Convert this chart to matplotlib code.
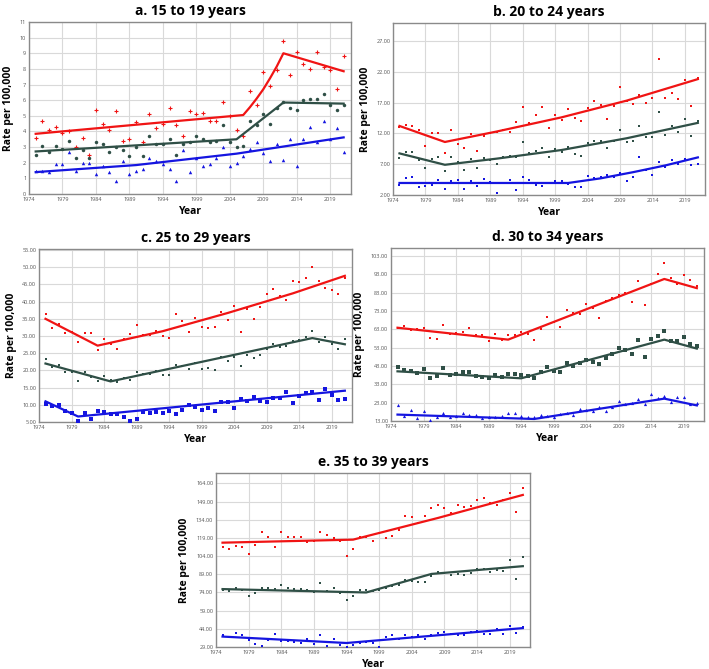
import matplotlib
matplotlib.use('Agg')
import matplotlib.pyplot as plt
import numpy as np
from matplotlib.ticker import FormatStrFormatter

plt.rcParams['font.family'] = ['Open Sans', 'DejaVu Sans']

years = list(range(1975, 2022))

## ---- a. 15 to 19 years ----
a_red = [3.6, 4.7, 4.1, 4.3, 3.9, 4.0, 3.0, 3.6, 2.5, 5.4, 4.5, 4.1, 5.3, 3.4, 3.5, 4.6,
         3.3, 5.1, 4.2, 4.5, 5.5, 4.4, 3.7, 5.3, 5.1, 5.2, 4.7, 4.7, 5.9, 5.0, 4.1, 3.7,
         6.6, 5.7, 7.8, 6.9, 7.9, 9.8, 7.6, 9.1, 8.3, 8.0, 9.1, 8.1, 7.9, 6.7, 8.8]
a_green = [2.5, 3.1, 2.7, 3.1, 2.9, 3.4, 2.3, 2.8, 2.3, 3.3, 3.2, 2.7, 3.0, 2.8, 2.4, 3.0,
           2.4, 3.7, 3.2, 3.2, 3.5, 2.5, 3.2, 3.3, 3.7, 3.5, 3.3, 3.4, 4.4, 3.3, 3.0, 3.1,
           4.7, 4.4, 5.1, 4.5, 5.5, 5.9, 5.5, 5.4, 6.0, 6.1, 6.1, 6.4, 5.7, 5.4, 5.7]
a_blue = [1.5, 1.5, 1.4, 1.9, 1.9, 2.7, 1.5, 2.0, 2.0, 1.3, 1.8, 1.4, 0.8, 2.1, 1.3, 1.5,
          1.6, 2.3, 2.1, 1.9, 1.6, 0.8, 2.8, 1.4, 2.3, 1.8, 1.9, 2.3, 3.0, 1.8, 2.0, 2.4,
          2.9, 3.3, 2.6, 2.1, 3.2, 2.2, 3.5, 1.8, 3.5, 4.3, 3.3, 4.7, 3.5, 4.2, 2.7]
a_red_fit_x = [1975, 2006, 2007, 2008, 2009, 2010, 2011, 2012, 2021]
a_red_fit = [3.85, 5.05, 5.55, 6.1, 6.7, 7.4, 8.15, 9.0, 7.85]
a_green_fit_x = [1975, 2005, 2012, 2021]
a_green_fit = [2.72, 3.5, 5.85, 5.78]
a_blue_fit_x = [1975, 1990, 2005, 2021]
a_blue_fit = [1.4, 1.85, 2.58, 3.62]

## ---- b. 20 to 24 years ----
b_red = [13.1, 13.3, 13.2, 12.5, 9.9, 12.1, 12.0, 8.8, 12.5, 10.3, 9.6, 11.9, 9.1, 11.6, 12.0, 12.3,
         12.5, 12.2, 13.9, 16.2, 13.6, 14.9, 16.3, 12.9, 14.9, 14.2, 15.9, 14.5, 14.0, 16.1, 17.2, 16.6,
         14.3, 16.4, 19.5, 17.2, 16.7, 18.3, 17.0, 17.8, 24.1, 17.7, 18.6, 17.6, 20.6, 16.5, 20.9]
b_green = [8.0, 9.0, 9.0, 7.7, 6.4, 7.8, 8.1, 5.9, 8.1, 7.4, 6.1, 7.9, 6.3, 8.0, 7.7, 7.1,
           8.1, 8.3, 8.2, 10.6, 8.8, 9.2, 9.7, 8.2, 9.5, 9.0, 9.8, 8.6, 8.4, 10.5, 10.8, 10.7,
           9.7, 10.7, 12.5, 10.6, 10.7, 13.2, 11.4, 11.4, 15.5, 11.8, 13.2, 12.2, 14.3, 11.5, 14.0]
b_blue = [3.6, 4.8, 4.9, 3.3, 3.4, 3.7, 4.4, 3.0, 4.2, 4.5, 2.9, 4.2, 3.4, 4.6, 4.1, 2.4,
          4.0, 4.5, 2.8, 5.0, 4.5, 3.7, 3.4, 3.9, 4.3, 4.3, 3.8, 3.3, 3.3, 5.1, 4.7, 4.9,
          5.3, 5.0, 5.5, 4.2, 5.0, 8.2, 6.0, 5.3, 7.3, 6.6, 7.7, 7.1, 7.9, 6.9, 7.0]
b_red_fit_x = [1975, 1982, 1990, 2000, 2010, 2021]
b_red_fit = [13.2, 10.6, 12.3, 14.6, 17.3, 20.8]
b_green_fit_x = [1975, 1982, 1990, 2000, 2010, 2021]
b_green_fit = [8.75, 6.9, 7.9, 9.3, 11.2, 13.7]
b_blue_fit_x = [1975, 2001, 2006, 2011, 2016, 2021]
b_blue_fit = [3.95, 3.95, 4.7, 5.7, 6.8, 8.1]

## ---- c. 25 to 29 years ----
c_red = [36.5, 32.3, 33.5, 31.0, 31.3, 28.3, 31.0, 30.9, 25.8, 29.2, 27.8, 26.2, 29.1, 30.5, 33.2, 30.4,
         30.2, 31.6, 30.1, 29.4, 36.4, 34.5, 31.3, 35.1, 32.5, 32.3, 32.7, 36.9, 34.8, 38.7, 31.3, 38.0,
         34.9, 38.3, 42.2, 43.8, 41.7, 40.6, 45.9, 45.6, 46.8, 50.2, 45.9, 44.0, 43.3, 42.2, 47.0]
c_green = [23.2, 21.0, 21.6, 19.6, 19.4, 16.9, 19.4, 18.0, 17.0, 18.4, 17.3, 16.6, 17.7, 17.3, 19.5, 18.9,
           18.9, 19.7, 18.6, 18.7, 21.7, 21.2, 20.5, 22.1, 20.4, 20.6, 20.2, 23.8, 22.6, 23.9, 21.4, 24.5,
           23.5, 24.5, 26.2, 27.6, 26.9, 27.0, 28.5, 28.8, 29.7, 31.5, 28.2, 29.7, 27.7, 26.3, 29.0]
c_blue = [10.1, 9.7, 9.8, 8.3, 7.5, 5.4, 7.7, 6.0, 8.3, 7.8, 7.2, 7.3, 6.4, 5.2, 6.0, 7.8,
          7.6, 7.9, 7.5, 8.3, 7.2, 8.4, 10.0, 9.3, 8.6, 9.1, 8.1, 10.9, 10.8, 9.0, 11.7, 11.0,
          12.3, 11.0, 10.8, 11.9, 12.0, 13.8, 10.6, 12.6, 13.3, 13.6, 11.4, 14.5, 12.9, 11.3, 11.8]
c_red_fit_x = [1975, 1983, 1993, 2003, 2013, 2021]
c_red_fit = [35.0, 27.2, 31.4, 36.7, 42.4, 47.5]
c_green_fit_x = [1975, 1985, 2016, 2021]
c_green_fit = [22.0, 16.8, 29.4, 27.6]
c_blue_fit_x = [1975, 1980, 2021]
c_blue_fit = [11.0, 6.6, 14.1]

## ---- d. 30 to 34 years ----
d_red = [64.0, 65.0, 62.8, 63.3, 64.0, 58.5, 58.0, 65.6, 60.5, 60.8, 61.5, 63.5, 59.8, 60.2, 56.6, 60.5,
         57.3, 59.9, 60.0, 61.5, 60.5, 57.2, 63.0, 70.0, 67.0, 64.3, 73.4, 72.0, 71.5, 76.8, 74.6, 69.0,
         78.6, 80.0, 82.0, 82.7, 78.2, 89.5, 76.5, 87.5, 93.4, 99.0, 91.0, 88.0, 92.6, 90.0, 86.5]
d_green = [42.3, 40.6, 40.5, 39.3, 41.3, 36.7, 37.3, 41.8, 38.0, 38.5, 39.5, 39.8, 37.8, 37.2, 36.2, 37.9,
           37.0, 38.6, 38.7, 38.2, 37.4, 36.2, 39.5, 42.5, 40.5, 39.8, 44.5, 43.0, 44.8, 46.2, 45.3, 44.3,
           47.3, 49.5, 52.6, 52.0, 49.5, 57.0, 47.8, 57.5, 59.2, 62.0, 56.5, 56.8, 59.0, 55.0, 54.0]
d_blue = [21.6, 15.8, 18.9, 14.7, 18.5, 13.3, 15.2, 17.5, 15.3, 15.6, 17.1, 16.2, 16.5, 14.5, 15.4, 15.2,
          15.8, 17.5, 17.4, 15.6, 15.0, 15.0, 16.4, 16.0, 15.1, 17.0, 17.6, 16.1, 19.8, 19.2, 18.7, 20.6,
          18.2, 20.4, 24.0, 22.4, 23.0, 24.8, 22.1, 27.8, 25.3, 26.5, 23.5, 26.0, 26.3, 22.4, 23.0]
d_red_fit_x = [1975, 1992, 2016, 2021]
d_red_fit = [63.9, 57.4, 90.5, 85.5]
d_green_fit_x = [1975, 1994, 2016, 2021]
d_green_fit = [40.1, 36.3, 57.4, 52.5]
d_blue_fit_x = [1975, 1996, 2016, 2021]
d_blue_fit = [16.5, 14.1, 25.2, 21.5]

## ---- e. 35 to 39 years ----
e_red = [111.5, 110.0, 112.0, 111.5, 105.5, 113.0, 124.0, 119.5, 111.5, 123.5, 120.0, 119.5, 120.0, 116.0, 116.5, 123.5,
         121.5, 119.0, 116.5, 104.5, 109.5, 119.5, 119.5, 116.5, 123.0, 119.0, 120.5, 125.5, 137.5, 136.0, 131.0, 137.5,
         144.0, 146.5, 144.0, 139.5, 146.0, 144.5, 145.0, 150.5, 152.0, 147.5, 146.0, 150.0, 156.5, 140.5, 160.0]
e_green = [76.0, 75.0, 77.5, 76.0, 71.5, 73.5, 77.5, 77.5, 76.5, 80.5, 77.5, 76.5, 76.5, 76.0, 74.5, 82.0,
           75.5, 77.5, 73.5, 67.5, 71.5, 76.0, 76.0, 75.0, 76.0, 78.0, 79.5, 80.5, 84.5, 83.5, 82.5, 83.0,
           87.5, 91.0, 90.0, 88.5, 89.5, 88.5, 90.0, 93.0, 93.0, 90.5, 92.5, 92.0, 101.0, 85.5, 103.0]
e_blue = [38.5, 37.5, 40.5, 38.5, 35.0, 31.5, 29.5, 35.0, 39.5, 34.0, 34.0, 33.0, 32.5, 35.5, 31.5, 38.5,
          30.0, 35.5, 30.5, 29.0, 31.0, 32.0, 33.0, 32.5, 29.0, 37.5, 39.0, 35.5, 38.5, 37.0, 38.5, 35.5,
          39.0, 40.5, 41.0, 40.0, 38.5, 39.0, 41.0, 42.0, 39.5, 39.5, 44.0, 40.0, 46.0, 40.5, 45.5]
e_red_fit_x = [1975, 1995, 2008, 2021]
e_red_fit = [115.1, 117.6, 135.5, 154.5]
e_green_fit_x = [1975, 1997, 2007, 2021]
e_green_fit = [76.8, 74.0, 89.3, 95.7]
e_blue_fit_x = [1975, 1994, 2021]
e_blue_fit = [37.6, 32.3, 44.6]

titles = ['a. 15 to 19 years', 'b. 20 to 24 years', 'c. 25 to 29 years',
          'd. 30 to 34 years', 'e. 35 to 39 years']
y_ticks = [np.arange(0, 12, 1), np.arange(2, 28, 5), np.arange(5, 56, 5),
           np.arange(13, 104, 10), np.arange(29, 165, 15)]
y_lims = [(0, 11), (2, 29.9), (5, 55.3), (13, 107.4), (29, 172.6)]

RED = '#f01414'
GREEN = '#2f4f46'
BLUE = '#1515e0'

W, H = 709, 669
# axes boxes in pixels: left, right, top, bottom
boxes = [(29, 351, 22, 194), (393, 705, 23, 195), (39, 352, 249, 422),
         (391, 704, 248, 421), (216, 530, 473, 647)]

# marker style per panel: (red, green, blue)
markers = [
    (('+', 3.2), ('o', 2.5), ('^', 2.5)),
    (('s', 1.7), ('s', 1.7), ('s', 1.7)),
    (('s', 1.5), ('s', 1.5), ('s', 2.8)),
    (('s', 1.5), ('s', 2.2), ('^', 2.3)),
    (('s', 1.6), ('s', 1.9), ('s', 1.9)),
]

panels = [
    (a_red, a_green, a_blue, a_red_fit_x, a_red_fit, a_green_fit_x, a_green_fit, a_blue_fit_x, a_blue_fit),
    (b_red, b_green, b_blue, b_red_fit_x, b_red_fit, b_green_fit_x, b_green_fit, b_blue_fit_x, b_blue_fit),
    (c_red, c_green, c_blue, c_red_fit_x, c_red_fit, c_green_fit_x, c_green_fit, c_blue_fit_x, c_blue_fit),
    (d_red, d_green, d_blue, d_red_fit_x, d_red_fit, d_green_fit_x, d_green_fit, d_blue_fit_x, d_blue_fit),
    (e_red, e_green, e_blue, e_red_fit_x, e_red_fit, e_green_fit_x, e_green_fit, e_blue_fit_x, e_blue_fit),
]

fig = plt.figure(figsize=(W / 100, H / 100), dpi=100)

for i, p in enumerate(panels):
    l, r, t, b = boxes[i]
    ax = fig.add_axes([l / W, 1 - b / H, (r - l) / W, (b - t) / H])
    red, green, blue, rfx, rf, gfx, gf, bfx, bf = p
    mk = markers[i]
    for vals, col, (m, s) in zip([red, green, blue], [RED, GREEN, BLUE], mk):
        ax.plot(years, vals, linestyle='none', marker=m, markersize=s, color=col,
                markeredgewidth=0.8 if m == '+' else 0, zorder=3)
    ax.plot(rfx, rf, color=RED, lw=1.6, zorder=4)
    ax.plot(gfx, gf, color=GREEN, lw=1.6, zorder=4)
    ax.plot(bfx, bf, color=BLUE, lw=1.6, zorder=4)

    ax.set_xlim(1974, 2022.1)
    ax.set_ylim(*y_lims[i])
    ax.set_xticks(range(1974, 2020, 5))
    ax.set_yticks(y_ticks[i])
    if i > 0:
        ax.yaxis.set_major_formatter(FormatStrFormatter('%.2f'))
    ax.tick_params(labelsize=4, colors='#555555', length=0, pad=2)
    ax.grid(True, color='#d9d9d9', lw=0.8)
    ax.set_axisbelow(True)
    for sp in ax.spines.values():
        sp.set_color('#8a8a8a')
        sp.set_linewidth(1.0)

    ax.set_title(titles[i], fontsize=10, fontweight='bold', pad=5)
    ax.set_xlabel('Year', fontsize=7.5, fontweight='bold', labelpad=3)
    ax.set_ylabel('Rate per 100,000', fontsize=7.5, fontweight='bold', labelpad=4)

fig.savefig('out.png', dpi=100)
